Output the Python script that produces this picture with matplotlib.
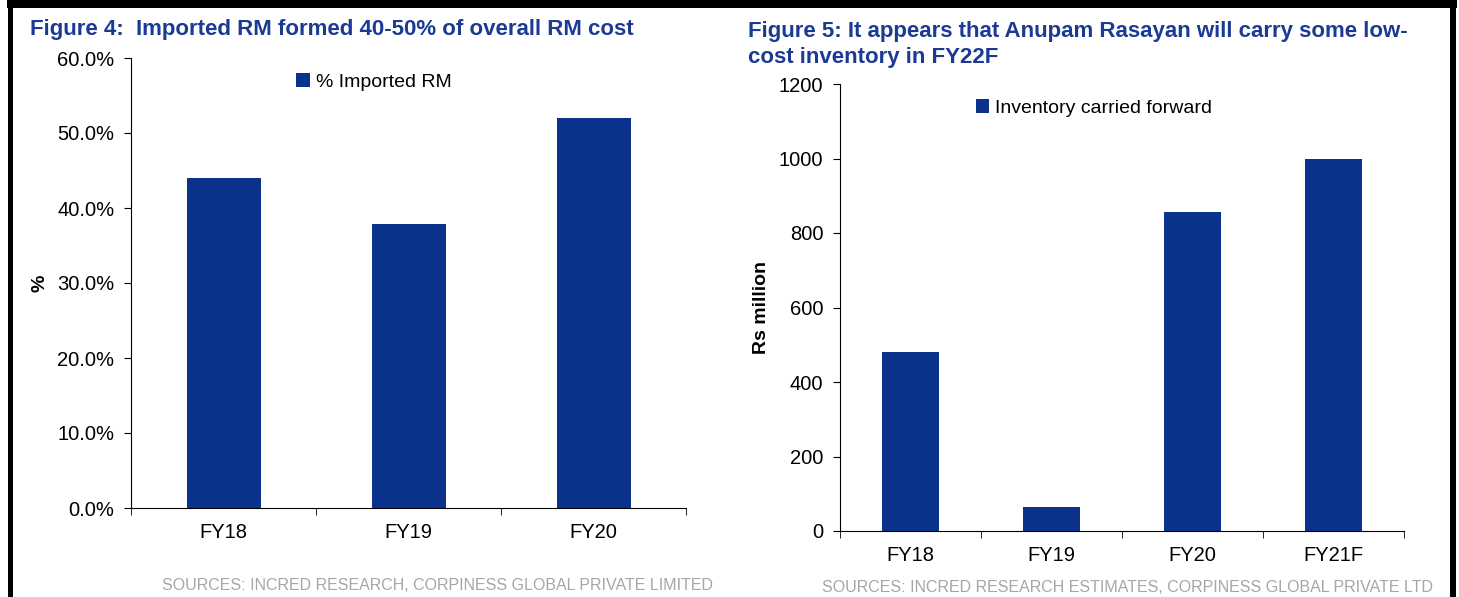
import matplotlib
matplotlib.use('Agg')
import matplotlib.pyplot as plt
from matplotlib.patches import Rectangle
from matplotlib.ticker import FuncFormatter

# data
cats_left = ['FY18', 'FY19', 'FY20']
imported_rm = [44.0, 37.9, 52.0]
cats_right = ['FY18', 'FY19', 'FY20', 'FY21F']
inventory = [480, 64, 856, 1000]

bar_col = '#0A318C'
title_col = '#1B3A94'
src_col = '#A6A6A6'

plt.rcParams['font.family'] = ['Liberation Sans', 'DejaVu Sans']

W, H = 1459, 597
fig = plt.figure(figsize=(W / 100, H / 100), dpi=100)


def fx(px):
    return px / W


def fy(py):
    return 1 - py / H


# black frame
for x0, y0, w, h in [(7, 0, 1450, 8), (8, 0, 5, 597), (1450, 0, 6, 597)]:
    fig.add_artist(Rectangle((fx(x0), fy(y0 + h)), w / W, h / H, transform=fig.transFigure,
                             facecolor='black', edgecolor='none'))


def style_axes(ax, n):
    ax.spines['top'].set_visible(False)
    ax.spines['right'].set_visible(False)
    ax.set_xlim(-0.5, n - 0.5)
    ax.set_xticks(range(n))
    ax.tick_params(axis='x', length=0, pad=11)
    ax.set_xticks([i - 0.5 for i in range(n + 1)], minor=True)
    ax.tick_params(axis='x', which='minor', length=5, direction='out')
    ax.tick_params(axis='y', length=5, direction='out', pad=7)


# left chart
ax1 = fig.add_axes([fx(131), fy(508), fx(686) - fx(131), fy(58) - fy(508)])
ax1.bar(range(3), imported_rm, width=0.4, color=bar_col, label='% Imported RM')
style_axes(ax1, 3)
ax1.set_xticklabels(cats_left, fontsize=14.5)
ax1.set_ylim(0, 60)
ax1.set_yticks(range(0, 61, 10))
ax1.yaxis.set_major_formatter(FuncFormatter(lambda v, p: '%.1f%%' % v))
ax1.tick_params(axis='y', labelsize=14.5)
ax1.legend(loc='center', bbox_to_anchor=(0.438, 0.947), frameon=False, fontsize=14,
           handlelength=0.7, handleheight=0.7, handletextpad=0.3)
fig.text(fx(40), fy(283), '%', rotation=90, fontsize=14, fontweight='bold', ha='center', va='center')

fig.text(fx(30), fy(30), 'Figure 4:  Imported RM formed 40-50% of overall RM cost', color=title_col,
         fontsize=16, fontweight='bold', va='center', ha='left')
fig.text(fx(438), fy(586), 'SOURCES: INCRED RESEARCH, CORPINESS GLOBAL PRIVATE LIMITED', color=src_col,
         fontsize=11.5, ha='center', va='center')

# right chart
ax2 = fig.add_axes([fx(840), fy(531), fx(1404) - fx(840), fy(84) - fy(531)])
ax2.bar(range(4), inventory, width=0.4, color=bar_col, label='Inventory carried forward')
style_axes(ax2, 4)
ax2.set_xticklabels(cats_right, fontsize=14.5)
ax2.set_ylim(0, 1200)
ax2.set_yticks(range(0, 1201, 200))
ax2.tick_params(axis='y', labelsize=14.5)
ax2.legend(loc='center', bbox_to_anchor=(0.45, 0.946), frameon=False, fontsize=14,
           handlelength=0.7, handleheight=0.7, handletextpad=0.3)
fig.text(fx(762), fy(307), 'Rs million', rotation=90, fontsize=14, fontweight='bold', ha='center', va='center')

fig.text(fx(748), fy(32), 'Figure 5: It appears that Anupam Rasayan will carry some low-', color=title_col,
         fontsize=16, fontweight='bold', va='center', ha='left')
fig.text(fx(748), fy(57), 'cost inventory in FY22F', color=title_col,
         fontsize=16, fontweight='bold', va='center', ha='left')
fig.text(fx(1128), fy(587), 'SOURCES: INCRED RESEARCH ESTIMATES, CORPINESS GLOBAL PRIVATE LTD', color=src_col,
         fontsize=11.5, ha='center', va='center')

fig.savefig('out.png', dpi=100)
